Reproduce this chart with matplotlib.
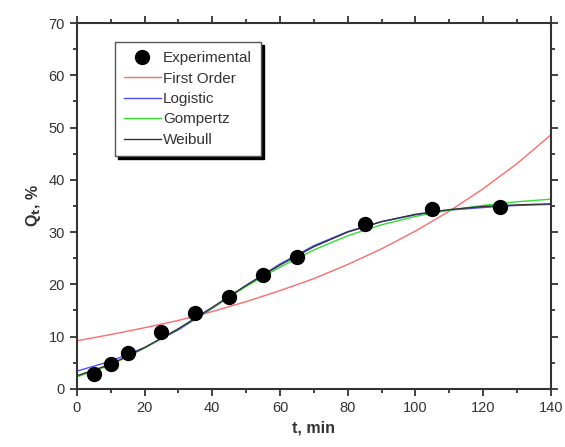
import matplotlib.pyplot as plt
from matplotlib.ticker import MultipleLocator

plt.rcParams['font.family'] = ['Liberation Sans', 'DejaVu Sans']

# experimental release data
t_exp = [5, 10, 15, 25, 35, 45, 55, 65, 85, 105, 125]
q_exp = [2.8, 4.7, 6.8, 10.8, 14.5, 17.6, 21.7, 25.3, 31.6, 34.4, 34.8]

# model curves every 10 min
t_fit = [0, 10, 20, 30, 40, 50, 60, 70, 80, 90, 100, 110, 120, 130, 140]
q_first = [9.2, 10.4, 11.7, 13.1, 14.8, 16.7, 18.8, 21.1, 23.8, 26.8,
           30.2, 34.0, 38.3, 43.1, 48.6]
q_logistic = [3.4, 5.3, 7.9, 11.3, 15.4, 19.8, 23.9, 27.4, 30.1, 32.0,
              33.3, 34.2, 34.7, 35.1, 35.3]
q_gompertz = [2.3, 4.6, 7.8, 11.5, 15.5, 19.6, 23.3, 26.6, 29.3, 31.4,
              33.0, 34.2, 35.1, 35.8, 36.3]
q_weibull = [2.5, 4.7, 7.9, 11.5, 15.6, 19.8, 23.7, 27.2, 30.0, 32.0,
             33.4, 34.3, 34.9, 35.2, 35.4]

fig = plt.figure(figsize=(5.65, 4.47), dpi=100)
ax = fig.add_axes([0.136, 0.130, 0.839, 0.8185])

ax.plot(t_exp, q_exp, 'o', color='black', ms=10, label='Experimental', zorder=5)
ax.plot(t_fit, q_first, color='#ff6b6b', lw=1, label='First Order')
ax.plot(t_fit, q_logistic, color='#5050ff', lw=1, label='Logistic')
ax.plot(t_fit, q_gompertz, color='#33dd33', lw=1, label='Gompertz')
ax.plot(t_fit, q_weibull, color='#333333', lw=1, label='Weibull')

ax.set_xlim(0, 140)
ax.set_ylim(0, 70)
ax.xaxis.set_major_locator(MultipleLocator(20))
ax.xaxis.set_minor_locator(MultipleLocator(10))
ax.yaxis.set_major_locator(MultipleLocator(10))
ax.yaxis.set_minor_locator(MultipleLocator(5))
ax.tick_params(which='both', direction='out', top=True, right=True,
               width=1.3, labelsize=10.5, colors='#333333')
ax.tick_params(which='major', length=5)
ax.tick_params(which='minor', length=3)
for s in ax.spines.values():
    s.set_linewidth(1.5)
    s.set_color('#333333')

ax.set_xlabel('t, min', fontsize=11.5, fontweight='bold', color='#333333')
ax.set_ylabel('Q$_\\mathbf{t}$, %', fontsize=11.5, fontweight='bold', color='#333333')

leg = ax.legend(loc='upper left', bbox_to_anchor=(0.08, 0.948), fontsize=11,
                frameon=True, fancybox=False, handlelength=2.4,
                handletextpad=0.15, borderpad=0.6, labelspacing=0.42,
                borderaxespad=0,
                shadow={'color': 'black', 'alpha': 1}, framealpha=1)
leg.get_frame().set_edgecolor('#555555')
leg.get_frame().set_linewidth(1)
for txt in leg.get_texts():
    txt.set_color('#333333')

fig.savefig('out.png', dpi=100)
